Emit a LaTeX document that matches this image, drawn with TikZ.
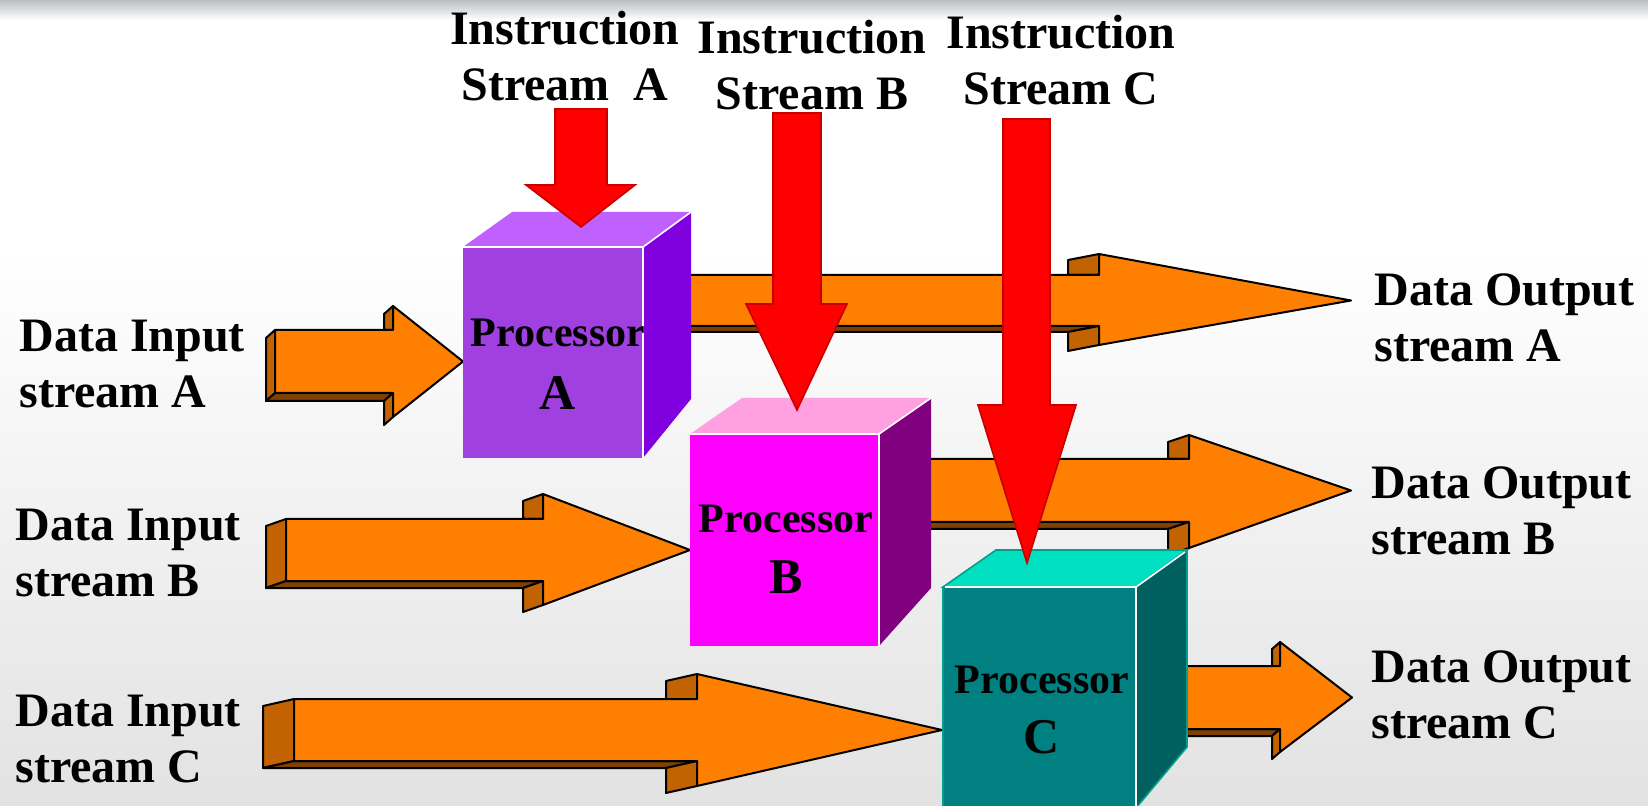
\documentclass[tikz,border=0pt]{standalone}
\usepackage{fontspec}
\setmainfont{Liberation Serif}
\definecolor{bgtop}{RGB}{188,190,193}
\definecolor{bgbot}{RGB}{226,226,226}
\definecolor{orangeF}{RGB}{255,128,0}
\definecolor{orangeS}{RGB}{194,98,0}
\definecolor{orangeB}{RGB}{128,64,0}
\definecolor{redF}{RGB}{255,0,0}
\definecolor{redE}{RGB}{200,0,0}
\definecolor{cubeAfront}{RGB}{160,64,224}
\definecolor{cubeAtop}{RGB}{192,96,255}
\definecolor{cubeAside}{RGB}{128,0,224}
\definecolor{cubeBfront}{RGB}{255,0,255}
\definecolor{cubeBtop}{RGB}{255,160,224}
\definecolor{cubeBside}{RGB}{128,0,128}
\definecolor{cubeCfront}{RGB}{0,128,128}
\definecolor{cubeCtop}{RGB}{0,224,192}
\definecolor{cubeCside}{RGB}{0,96,96}
\definecolor{cubeCedge}{RGB}{0,160,140}
\tikzset{
  blockline/.style={draw=black, line width=1pt, line join=round},
  frontface/.style={blockline, fill=orangeF},
  sideface/.style={blockline, fill=orangeS},
  bottomface/.style={blockline, fill=orangeB},
  instrarrow/.style={fill=redF, draw=redE, line width=0.8pt, line join=miter},
  label/.style={font={\bfseries\fontsize{24}{28}\selectfont}, inner sep=0pt},
  proctext/.style={font={\bfseries\fontsize{21}{25}\selectfont}, inner sep=0pt, anchor=base},
  procletter/.style={font={\bfseries\fontsize{25}{30}\selectfont}, inner sep=0pt, anchor=base},
  inneredge/.style={draw=white, line width=0.8pt},
}
% extruded block arrow: x0, shaft top, shaft bottom, head x, head top, head bottom, tip x, depth dx, depth dy
\newcommand\blockarrow[9]{%
  \pgfmathsetmacro\tipy{(#2+#3)/2}
  \path[sideface] (#1,#2) -- (#1,#3) -- ({#1-#8},{#3+#9}) -- ({#1-#8},{#2+#9}) -- cycle;
  \path[bottomface] (#1,#3) -- (#4,#3) -- ({#4-#8},{#3+#9}) -- ({#1-#8},{#3+#9}) -- cycle;
  \path[sideface] ({#4-#8},{#5+#9}) -- (#4,#5) -- (#4,#2) -- ({#4-#8},#2) -- cycle;
  \path[sideface] ({#4-#8},{#3+#9}) -- (#4,#3) -- (#4,#6) -- ({#4-#8},{#6+#9}) -- cycle;
  \path[frontface] (#1,#2) -- (#4,#2) -- (#4,#5) -- (#7,\tipy) -- (#4,#6) -- (#4,#3) -- (#1,#3) -- cycle;
}
% downward instruction arrow: shaft left, shaft right, top, head base y, head left, head right, tip x, tip y
\newcommand\instrdown[8]{%
  \path[instrarrow] (#1,#3) -- (#2,#3) -- (#2,#4) -- (#6,#4) -- (#7,#8) -- (#5,#4) -- (#1,#4) -- cycle;
}
\begin{document}
\begin{tikzpicture}[x=0.5pt,y=-0.5pt]
\useasboundingbox (0,0) rectangle (1648,806);
\clip (0,0) rectangle (1648,806);
% background
\fill[white] (0,0) rectangle (1648,806);
\shade[top color=bgtop, bottom color=white] (0,0) rectangle (1648,20);
\shade[top color=white, bottom color=bgbot] (0,250) rectangle (1648,806);

% data output streams (they leave from behind the processors)
\blockarrow{665}{275}{326}{1099}{254}{345}{1351}{31}{6}
\blockarrow{900}{459}{522}{1189}{435}{548}{1351}{21}{7}
\blockarrow{1160}{666}{729}{1280}{642}{752}{1352}{8}{7}

% data input streams
\blockarrow{275}{330}{393}{393}{306}{417}{463}{9}{8}
\blockarrow{286}{519}{581}{543}{494}{605}{690}{20}{7}
\blockarrow{294}{699}{761}{697}{674}{786}{942}{31}{7}

% processor A
\fill[cubeAfront] (463,247) rectangle (643,458);
\fill[cubeAtop] (463,247) -- (512,212) -- (691,212) -- (643,247) -- cycle;
\fill[cubeAside] (643,247) -- (691,212) -- (691,399) -- (643,458) -- cycle;
\path[inneredge] (463,247) -- (643,247) -- (691,212) (643,247) -- (643,458);

% processor B
\fill[cubeBfront] (690,434) rectangle (879,646);
\fill[cubeBtop] (690,434) -- (742,398) -- (931,398) -- (879,434) -- cycle;
\fill[cubeBside] (879,434) -- (931,398) -- (931,588) -- (879,646) -- cycle;
\path[inneredge] (690,434) -- (879,434) -- (931,398) (879,434) -- (879,646);

% processor C
\path[fill=cubeCfront, draw=cubeCedge, line width=0.8pt] (943,587) rectangle (1136,830);
\path[fill=cubeCtop, draw=cubeCedge, line width=0.8pt] (943,587) -- (996,550) -- (1187,550) -- (1136,587) -- cycle;
\path[fill=cubeCside, draw=cubeCedge, line width=0.8pt] (1136,587) -- (1187,550) -- (1187,747) -- (1136,808) -- cycle;
\path[inneredge] (945,587) -- (1136,587) -- (1185,552) (1136,587) -- (1136,806);

% instruction streams
\instrdown{555}{607}{109}{185}{526}{635}{581}{227}
\instrdown{773}{821}{113}{304}{746}{847}{797}{410}
\instrdown{1003}{1050}{119}{405}{978}{1076}{1027}{563}

% processor labels
\node[proctext] (pA) at (558,346.7) {Processor};
\node[procletter] (lA) at (558,410) {A};
\node[proctext] (pB) at (786,532.7) {Processor};
\node[procletter] (lB) at (786,593.3) {B};
\node[proctext] (pC) at (1042,693.3) {Processor};
\node[procletter] (lC) at (1042,753.3) {C};

% instruction labels
\node[label, align=center] (iA) at (565,56.5) {Instruction\\Stream\ \ A};
\node[label, align=center] (iB) at (812,65) {Instruction\\Stream B};
\node[label, align=center] (iC) at (1061,60) {Instruction\\Stream C};

% input labels
\node[label, align=left, anchor=west] (dinA) at (19,364) {Data Input\\stream A};
\node[label, align=left, anchor=west] (dinB) at (15,553) {Data Input\\stream B};
\node[label, align=left, anchor=west] (dinC) at (15,739) {Data Input\\stream C};

% output labels
\node[label, align=left, anchor=west] (doutA) at (1374,318) {Data Output\\stream A};
\node[label, align=left, anchor=west] (doutB) at (1371,511) {Data Output\\stream B};
\node[label, align=left, anchor=west] (doutC) at (1371,695) {Data Output\\stream C};
\end{tikzpicture}
\end{document}
